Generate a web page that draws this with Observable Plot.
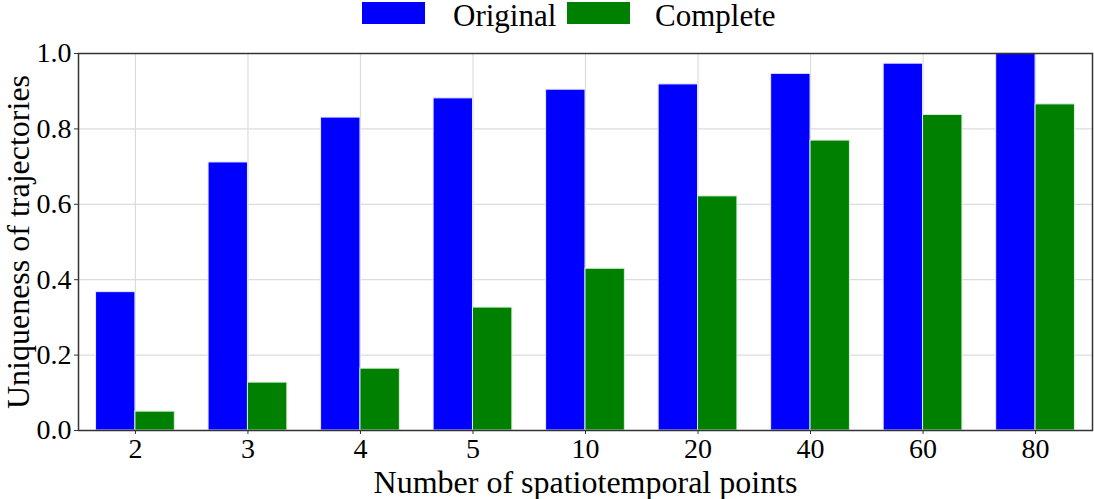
<!DOCTYPE html>
<html>
<head>
<meta charset="utf-8">
<script src="https://cdn.jsdelivr.net/npm/d3@7"></script>
<script src="https://cdn.jsdelivr.net/npm/@observablehq/plot@0.6"></script>
<style>
  body { margin: 0; background: #fff; font-family: "Liberation Serif", serif; }
  #legend { position: relative; height: 28px; font-size: 31px; }
  .sw { position: absolute; top: 2px; width: 63px; height: 22px; }
  .lt { position: absolute; top: 0px; line-height: 32px; white-space: nowrap; }
  svg text { font-family: "Liberation Serif", serif; }
</style>
</head>
<body>
<div id="legend"></div>
<div id="chart"></div>
<script>
const categories = ["2", "3", "4", "5", "10", "20", "40", "60", "80"];
const original = [0.367, 0.711, 0.830, 0.881, 0.904, 0.918, 0.946, 0.973, 1.0];
const complete = [0.050, 0.127, 0.164, 0.326, 0.429, 0.621, 0.769, 0.837, 0.865];
const seriesNames = ["Original", "Complete"];
const seriesColors = ["#0000ff", "#008000"];
const yTicks = [0, 0.2, 0.4, 0.6, 0.8, 1.0];

const rows = categories.map((c, i) => ({i, c, original: original[i], complete: complete[i]}));
const w = 0.35;

const legend = document.getElementById("legend");
const legendX = [[362, 453], [567, 655]];
seriesNames.forEach((n, k) => {
  const sw = document.createElement("div");
  sw.className = "sw";
  sw.style.left = legendX[k][0] + "px";
  sw.style.background = seriesColors[k];
  const t = document.createElement("div");
  t.className = "lt";
  t.style.left = legendX[k][1] + "px";
  t.textContent = n;
  legend.appendChild(sw);
  legend.appendChild(t);
});

const font = "Liberation Serif";
const chart = Plot.plot({
  width: 1094,
  height: 471,
  marginLeft: 78,
  marginRight: 2,
  marginTop: 25,
  marginBottom: 69,
  style: {fontFamily: font, background: "#fff"},
  x: {type: "linear", domain: [-0.506, 8.506]},
  y: {domain: [0, 1]},
  marks: [
    Plot.gridY(yTicks, {stroke: "#dcdcdc", strokeOpacity: 1, strokeWidth: 1.2}),
    Plot.gridX(d3.range(categories.length), {stroke: "#dcdcdc", strokeOpacity: 1, strokeWidth: 1.2}),
    Plot.rectY(rows, {x1: d => d.i - w, x2: d => d.i, y1: 0, y2: "original", fill: seriesColors[0], stroke: "#e8e8ff", strokeWidth: 1}),
    Plot.rectY(rows, {x1: d => d.i, x2: d => d.i + w, y1: 0, y2: "complete", fill: seriesColors[1], stroke: "#d8f0d8", strokeWidth: 1}),
    Plot.frame({stroke: "#333", strokeWidth: 1.5}),
    Plot.axisX(d3.range(categories.length), {
      tickFormat: d => categories[d], fontSize: 28, fontFamily: font, tickSize: 4, tickPadding: 4,
      stroke: "#333", fill: "#000", label: null
    }),
    Plot.axisY(yTicks, {
      tickFormat: d3.format(".1f"), fontSize: 28, fontFamily: font, tickSize: 4, tickPadding: 3,
      stroke: "#333", fill: "#000", label: null
    }),
    Plot.text(["Number of spatiotemporal points"], {frameAnchor: "bottom", dy: 62, fontSize: 32, fontFamily: font, fill: "#000"}),
    Plot.text(["Uniqueness of trajectories"], {frameAnchor: "left", textAnchor: "middle", dx: -60, rotate: -90, fontSize: 32, fontFamily: font, fill: "#000"})
  ]
});
document.getElementById("chart").appendChild(chart);
</script>
</body>
</html>
